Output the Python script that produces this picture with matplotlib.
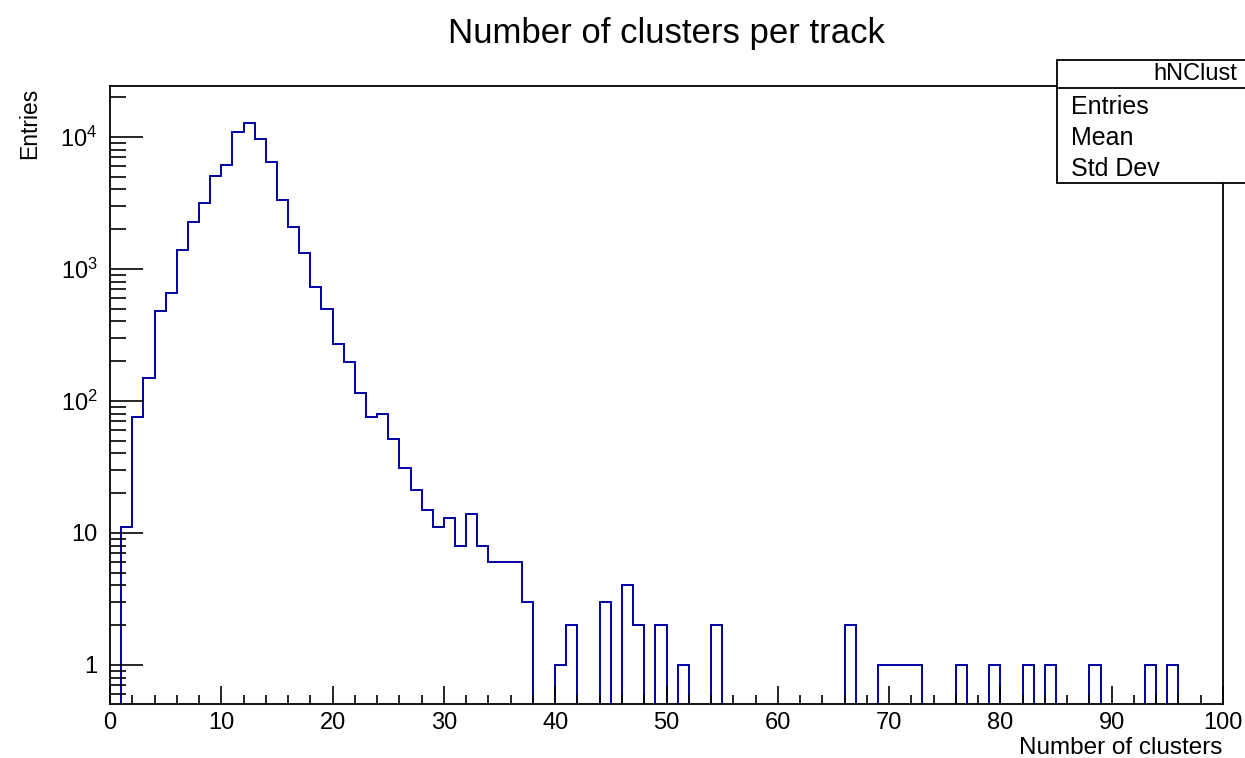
import matplotlib
matplotlib.use('Agg')
import matplotlib.pyplot as plt
import numpy as np
from matplotlib.patches import Rectangle
from matplotlib.lines import Line2D
from matplotlib.ticker import FixedLocator, FixedFormatter, MultipleLocator, LogLocator, NullFormatter

plt.rcParams['font.family'] = ['Liberation Sans', 'DejaVu Sans']
plt.rcParams['mathtext.fontset'] = 'custom'
plt.rcParams['mathtext.rm'] = 'Liberation Sans'

# hNClust: number of clusters per track, 100 bins from 0 to 100
bin_edges = np.arange(0, 101, 1)
counts = [
    0, 11, 75, 150, 480, 655, 1380, 2270, 3160, 5070,
    6140, 10800, 12800, 9600, 6500, 3330, 2070, 1320, 730, 495,
    270, 196, 114, 75, 80, 51, 31, 21, 15, 11,
    13, 8, 14, 8, 6, 6, 6, 3, 0, 0,
    1, 2, 0, 0, 3, 0, 4, 2, 0, 2,
    0, 1, 0, 0, 2, 0, 0, 0, 0, 0,
    0, 0, 0, 0, 0, 0, 2, 0, 0, 1,
    1, 1, 1, 0, 0, 0, 1, 0, 0, 1,
    0, 0, 1, 0, 1, 0, 0, 0, 1, 0,
    0, 0, 0, 1, 0, 1, 0, 0, 0, 0,
]
y_ticks = [1, 10, 100, 1000, 10000]
y_ticklabels = ['1', '10', r'$\mathdefault{10^{2}}$', r'$\mathdefault{10^{3}}$', r'$\mathdefault{10^{4}}$']
stat_names = ['Entries', 'Mean', 'Std Dev']

W, H = 1245, 758
fig = plt.figure(figsize=(W / 100, H / 100), dpi=100)
ax = fig.add_axes([110 / W, 1 - 704 / H, (1223 - 110) / W, (704 - 86) / H])

# empty bins pushed below the axis so the outline drops to the bottom like ROOT
vals = np.array(counts, dtype=float)
vals = np.where(vals > 0, vals, 1e-3)
ax.stairs(vals, bin_edges, baseline=None, color='#0000a0', linewidth=1.4)

ax.set_yscale('log')
ax.set_xlim(0, 100)
ax.set_ylim(0.505, 24300)

ax.xaxis.set_major_locator(MultipleLocator(10))
ax.xaxis.set_minor_locator(MultipleLocator(2))
ax.yaxis.set_major_locator(FixedLocator(y_ticks))
ax.yaxis.set_major_formatter(FixedFormatter(y_ticklabels))
ax.yaxis.set_minor_locator(LogLocator(base=10, subs=np.arange(2, 10) * 1.0, numticks=20))
ax.yaxis.set_minor_formatter(NullFormatter())

ax.tick_params(axis='both', which='both', direction='in', width=1.2, colors='black', labelsize=17)
ax.tick_params(axis='x', which='major', length=13, pad=6)
ax.tick_params(axis='x', which='minor', length=6.5)
ax.tick_params(axis='y', which='major', length=23.5, pad=9)
ax.tick_params(axis='y', which='minor', length=11.5)
for s in ax.spines.values():
    s.set_linewidth(1.3)

fig.text(666 / W, 1 - 33 / H, 'Number of clusters per track', ha='center', va='center', fontsize=25)
fig.text(1222 / W, 1 - 748 / H, 'Number of clusters', ha='right', va='center', fontsize=17.5)
fig.text(30 / W, 1 - 88 / H, 'Entries', ha='center', va='top', rotation=90, fontsize=16.5)

# stats box (runs off the right edge)
box = Rectangle((1057 / W, 1 - 183 / H), 0.3, (183 - 60) / H, transform=fig.transFigure,
                facecolor='white', edgecolor='black', linewidth=1.3, zorder=5)
fig.patches.append(box)
fig.lines.append(Line2D([1057 / W, 1.0], [1 - 88 / H, 1 - 88 / H], transform=fig.transFigure,
                        color='black', linewidth=1.3, zorder=6))
fig.text(1237 / W, 1 - 74 / H, 'hNClust', ha='right', va='center', fontsize=17, zorder=7)
for i, name in enumerate(stat_names):
    fig.text(1071 / W, 1 - (107 + 31 * i) / H, name, ha='left', va='center', fontsize=18, zorder=7)

plt.savefig('out.png', dpi=100)
